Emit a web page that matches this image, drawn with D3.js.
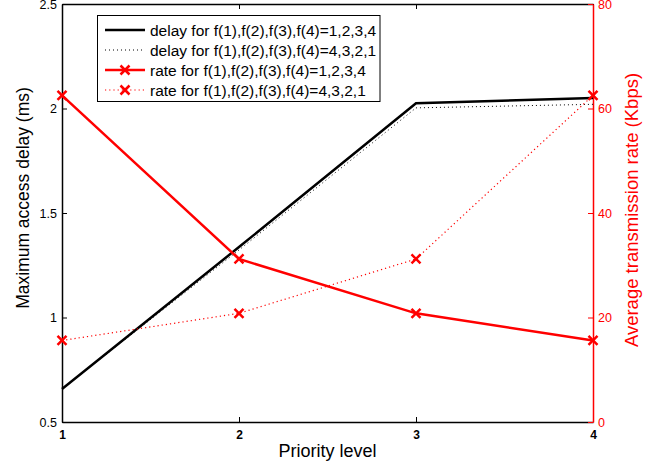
<!DOCTYPE html>
<html><head><meta charset="utf-8">
<script src="https://cdn.jsdelivr.net/npm/d3@7"></script>
<style>body{margin:0;background:#fff}svg{display:block}text{font-family:"Liberation Sans",Arial,sans-serif}</style>
</head><body><svg id="c" width="662" height="467"></svg>
<script>
const priority = [1, 2, 3, 4];
const delayAsc = [0.658, 1.337, 2.025, 2.05];
const delayDesc = [0.658, 1.323, 2.003, 2.02];
const rateAsc = [62.5, 31.2, 20.8, 15.6];
const rateDesc = [15.6, 20.8, 31.2, 62.5];
const xTicks = [1, 2, 3, 4];
const yLeftTicks = [0.5, 1, 1.5, 2, 2.5];
const yRightTicks = [0, 20, 40, 60, 80];
const legendLabels = [
  "delay for f(1),f(2),f(3),f(4)=1,2,3,4",
  "delay for f(1),f(2),f(3),f(4)=4,3,2,1",
  "rate for f(1),f(2),f(3),f(4)=1,2,3,4",
  "rate for f(1),f(2),f(3),f(4)=4,3,2,1"
];

const L = 62, R = 593, T = 4, B = 422;
const RED = "#ff0000";
const svg = d3.select("#c");
const x = d3.scaleLinear().domain([1, 4]).range([L, R]);
const yL = d3.scaleLinear().domain([0.5, 2.5]).range([B, T]);
const yR = d3.scaleLinear().domain([0, 80]).range([B, T]);

// axes
const gx = svg.append("g").attr("transform", `translate(0,${B})`)
  .call(d3.axisBottom(x).tickValues(xTicks).tickFormat(d3.format("d")).tickSizeInner(-5).tickSizeOuter(0).tickPadding(8));
gx.select(".domain").attr("stroke", "#000").attr("stroke-width", 1.5);
gx.selectAll("text").attr("font-size", 12).attr("font-weight", "bold").attr("fill", "#000");
const gxt = svg.append("g").attr("transform", `translate(0,${T})`)
  .call(d3.axisTop(x).tickValues(xTicks).tickFormat("").tickSizeInner(-5).tickSizeOuter(0));
gxt.select(".domain").attr("stroke", "#000").attr("stroke-width", 1.5);

const gl = svg.append("g").attr("transform", `translate(${L},0)`)
  .call(d3.axisLeft(yL).tickValues(yLeftTicks).tickFormat(d => d === 1 || d === 2 ? String(d) : d3.format(".1f")(d)).tickSizeInner(-5).tickSizeOuter(0).tickPadding(5));
gl.select(".domain").attr("stroke", "#000").attr("stroke-width", 1.5);
gl.selectAll("text").attr("font-size", 12.5).attr("fill", "#000");

const gr = svg.append("g").attr("transform", `translate(${R},0)`)
  .call(d3.axisRight(yR).tickValues(yRightTicks).tickSizeInner(-5).tickSizeOuter(0).tickPadding(5));
gr.select(".domain").attr("stroke", RED).attr("stroke-width", 1.5);
gr.selectAll(".tick line").attr("stroke", RED);
gr.selectAll("text").attr("font-size", 12.5).attr("fill", RED);

// titles
svg.append("text").attr("x", (L + R) / 2).attr("y", 457).attr("text-anchor", "middle")
  .attr("font-size", 18).text("Priority level");
svg.append("text").attr("transform", `translate(29,198) rotate(-90)`).attr("text-anchor", "middle")
  .attr("font-size", 17.5).text("Maximum access delay (ms)");
svg.append("text").attr("transform", `translate(638,210) rotate(-90)`).attr("text-anchor", "middle")
  .attr("font-size", 18.5).attr("fill", RED).text("Average transmission rate (Kbps)");

// lines
const lineL = d3.line().x((d, i) => x(priority[i])).y(d => yL(d));
const lineR = d3.line().x((d, i) => x(priority[i])).y(d => yR(d));
svg.append("path").attr("d", lineL(delayDesc)).attr("fill", "none").attr("stroke", "#000").attr("stroke-width", 1).attr("stroke-dasharray", "1,3");
svg.append("path").attr("d", lineL(delayAsc)).attr("fill", "none").attr("stroke", "#000").attr("stroke-width", 2.5);
svg.append("path").attr("d", lineR(rateDesc)).attr("fill", "none").attr("stroke", RED).attr("stroke-width", 1.2).attr("stroke-dasharray", "1.2,3");
svg.append("path").attr("d", lineR(rateAsc)).attr("fill", "none").attr("stroke", RED).attr("stroke-width", 2.5);

function cross(g, cx, cy) {
  const s = 4.5;
  g.append("path").attr("d", `M${cx - s},${cy - s}L${cx + s},${cy + s}M${cx - s},${cy + s}L${cx + s},${cy - s}`)
    .attr("stroke", RED).attr("stroke-width", 2.5).attr("fill", "none");
}
const mk = svg.append("g");
rateAsc.forEach((d, i) => cross(mk, x(priority[i]), yR(d)));
rateDesc.forEach((d, i) => cross(mk, x(priority[i]), yR(d)));

// legend
const lg = svg.append("g");
lg.append("rect").attr("x", 97.5).attr("y", 15.5).attr("width", 282.5).attr("height", 86)
  .attr("fill", "#fff").attr("stroke", "#000").attr("stroke-width", 1);
const styles = [
  {c: "#000", w: 2.5, dash: null, m: false},
  {c: "#000", w: 1, dash: "1,3", m: false},
  {c: RED, w: 2.5, dash: null, m: true},
  {c: RED, w: 1.2, dash: "1.2,3", m: true}
];
legendLabels.forEach((t, i) => {
  const yy = 30 + i * 20;
  const s = styles[i];
  const p = lg.append("line").attr("x1", 105).attr("x2", 145).attr("y1", yy).attr("y2", yy)
    .attr("stroke", s.c).attr("stroke-width", s.w);
  if (s.dash) p.attr("stroke-dasharray", s.dash);
  if (s.m) cross(lg, 125, yy);
  lg.append("text").attr("x", 150).attr("y", yy + 5.5).attr("font-size", 15.5).text(t);
});
</script></body></html>
